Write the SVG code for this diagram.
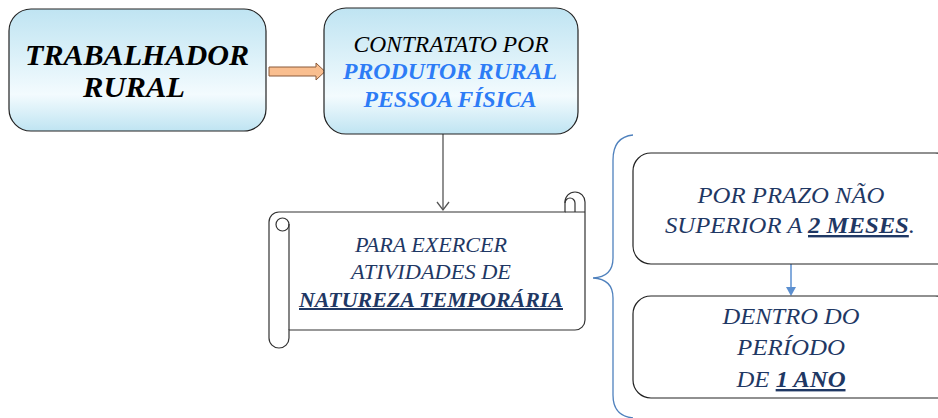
<svg xmlns="http://www.w3.org/2000/svg" width="938" height="418" viewBox="0 0 938 418">
<style>
.t{font-family:'Liberation Serif','Times New Roman',Times,'Noto Serif','DejaVu Serif',serif;font-style:italic;text-anchor:middle}
.b{font-weight:bold}
.navy{fill:#1F3864}
.blue{fill:#2D7CF6}
.box{stroke:#222;stroke-width:1.2}
.u{text-decoration:underline}
</style>
<defs>
<linearGradient id="g" x1="0" y1="0" x2="0" y2="1">
<stop offset="0" stop-color="#bfe4f2"/>
<stop offset="0.7" stop-color="#f3fbfe"/>
<stop offset="1" stop-color="#bfe4f2"/>
</linearGradient>
</defs>
<rect width="938" height="418" fill="#fff"/>
<g id="connectors">
<polygon points="269,67 316,67 316,63 325,71.5 316,80 316,76 269,76" fill="#F9BE8F" stroke="#8a5a3a" stroke-width="1"/>
<line x1="443" y1="134" x2="443" y2="210" stroke="#555" stroke-width="1.3"/>
<polyline points="437,202 443,210 449,202" fill="none" stroke="#555" stroke-width="1.3"/>
<line x1="791" y1="264" x2="791" y2="288" stroke="#5b8fd0" stroke-width="1.5"/>
<polygon points="786,287 796,287 791,296" fill="#5b8fd0"/>
<path d="M633 135 Q613 137 613 160 V258 Q613 277 593 278 Q613 279 613 298 V395 Q613 416 633 418" fill="none" stroke="#4f81bd" stroke-width="1.3"/>
</g>
<g id="n1">
<rect class="box" x="9" y="9" width="257" height="122" rx="22" fill="url(#g)"/>
<text class="t b" x="137" y="65" font-size="30" textLength="224" lengthAdjust="spacingAndGlyphs">TRABALHADOR</text>
<text class="t b" x="134" y="97" font-size="30" textLength="102" lengthAdjust="spacingAndGlyphs">RURAL</text>
</g>
<g id="n2">
<rect class="box" x="324" y="8" width="254" height="126" rx="22" fill="url(#g)"/>
<text class="t" x="451" y="52" font-size="23" textLength="195" lengthAdjust="spacingAndGlyphs">CONTRATATO POR</text>
<text class="t b blue" x="450" y="79" font-size="23" textLength="214" lengthAdjust="spacingAndGlyphs">PRODUTOR RURAL</text>
<text class="t b blue" x="450" y="107" font-size="23" textLength="173" lengthAdjust="spacingAndGlyphs">PESSOA FÍSICA</text>
</g>
<g id="n3">
<path d="M269 222 A10 10 0 0 1 279 212 H565 V202 A10 10 0 0 1 585 202 V320 A10 10 0 0 1 575 330 H289 V338 A10 10 0 0 1 269 338 Z" fill="#fff" stroke="#333" stroke-width="1.2"/>
<circle cx="282.5" cy="224.5" r="6.5" fill="none" stroke="#333" stroke-width="1.2"/>
<line x1="289" y1="224" x2="289" y2="330" stroke="#333" stroke-width="1.2"/>
<path d="M565 203 A5 5 0 0 1 575 203 V212 M565 212 H585" fill="none" stroke="#333" stroke-width="1.2"/>
<text class="t navy" x="431" y="252" font-size="20" textLength="152" lengthAdjust="spacingAndGlyphs">PARA EXERCER</text>
<text class="t navy" x="431" y="279" font-size="20" textLength="160" lengthAdjust="spacingAndGlyphs">ATIVIDADES  DE</text>
<text class="t navy b u" x="431" y="307" font-size="20" textLength="264" lengthAdjust="spacingAndGlyphs">NATUREZA TEMPORÁRIA</text>
</g>
<g id="n4">
<rect class="box" x="633" y="153" width="320" height="111" rx="18" fill="#fff"/>
<text class="t navy" x="791" y="203" font-size="24" textLength="187" lengthAdjust="spacingAndGlyphs">POR PRAZO NÃO</text>
<text class="t navy" x="790" y="233" font-size="24" textLength="250" lengthAdjust="spacingAndGlyphs">SUPERIOR A <tspan class="b u">2 MESES</tspan>.</text>
</g>
<g id="n5">
<rect class="box" x="633" y="296" width="320" height="102" rx="18" fill="#fff"/>
<text class="t navy" x="791" y="324" font-size="24" textLength="137" lengthAdjust="spacingAndGlyphs">DENTRO DO</text>
<text class="t navy" x="791" y="355" font-size="24" textLength="108" lengthAdjust="spacingAndGlyphs">PERÍODO</text>
<text class="t navy" x="791" y="387" font-size="24" textLength="109" lengthAdjust="spacingAndGlyphs">DE <tspan class="b u">1 ANO</tspan></text>
</g>
</svg>
